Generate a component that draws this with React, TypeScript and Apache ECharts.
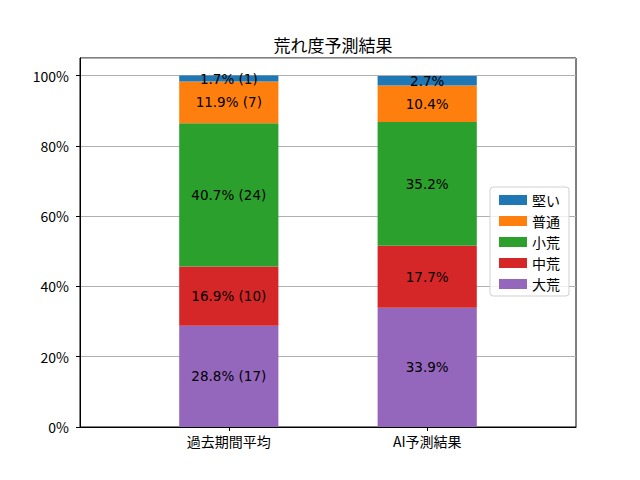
import React, { useEffect, useRef } from "react";
import * as echarts from "echarts";

const categories = ["過去期間平均", "AI予測結果"];
const seriesNames = ["大荒", "中荒", "小荒", "普通", "堅い"];
const colors = ["#9467bd", "#d62728", "#2ca02c", "#ff7f0e", "#1f77b4"];
const values = [
  [28.8, 33.9],
  [16.9, 17.7],
  [40.7, 35.2],
  [11.9, 10.4],
  [1.7, 2.7],
];
const counts = [
  [17, null],
  [10, null],
  [24, null],
  [7, null],
  [1, null],
];
const yTicks = [0, 20, 40, 60, 80, 100];
const legendOrder = ["堅い", "普通", "小荒", "中荒", "大荒"];

const FONT = "'Noto Sans CJK JP', 'DejaVu Sans', sans-serif";
const LABEL_FONT = "'DejaVu Sans', 'Noto Sans CJK JP', sans-serif";

export default function App() {
  const ref = useRef<HTMLDivElement>(null);
  useEffect(() => {
    if (!ref.current) return;
    const chart = echarts.init(ref.current, null, { renderer: "svg" });
    const series = seriesNames.map((name, si) => ({
      name,
      type: "bar",
      stack: "total",
      xAxisIndex: 1,
      yAxisIndex: 1,
      barWidth: "50%",
      itemStyle: { color: colors[si] },
      label: {
        show: true,
        position: "inside",
        color: "#000",
        fontSize: 13.5,
        fontFamily: LABEL_FONT,
        formatter: (p: any) => {
          const idx = p.dataIndex;
          const v = values[si][idx].toFixed(1) + "%";
          const c = counts[si][idx];
          return c !== null ? `${v} (${c})` : v;
        },
      },
      data: values[si],
    }));
    chart.setOption({
      animation: false,
      textStyle: { fontFamily: FONT },
      title: {
        text: "荒れ度予測結果",
        left: 328,
        top: 31,
        textAlign: "center",
        textStyle: { fontSize: 17, fontWeight: "normal", color: "#000", fontFamily: FONT },
      },
      grid: [
        {
          left: 80,
          right: 64,
          top: 58,
          bottom: 53,
          show: true,
          borderColor: "#000",
          borderWidth: 1,
          containLabel: false,
          z: 0,
        },
        {
          left: 129.6,
          right: 113.6,
          top: 58,
          bottom: 53,
          containLabel: false,
        },
      ],
      legend: {
        orient: "vertical",
        right: 71,
        top: 187,
        data: legendOrder,
        icon: "rect",
        itemWidth: 28,
        itemHeight: 10,
        itemGap: 7,
        padding: [6, 9, 5, 9],
        borderColor: "#d0d0d0",
        borderWidth: 1,
        borderRadius: 3,
        backgroundColor: "rgba(255,255,255,0.8)",
        textStyle: { fontSize: 14, color: "#000", fontFamily: FONT },
      },
      xAxis: [
        {
          type: "value",
          gridIndex: 0,
          min: -0.75,
          max: 1.75,
          splitLine: { show: false },
          axisLine: { onZero: false, lineStyle: { color: "#000" } },
          axisTick: { show: true, customValues: [0, 1], length: 4, lineStyle: { color: "#000" } },
          axisLabel: {
            customValues: [0, 1],
            formatter: (v: number) => categories[Math.round(v)] ?? "",
            color: "#000",
            fontSize: 14,
            fontFamily: FONT,
            margin: 7,
          },
        },
        {
          type: "category",
          gridIndex: 1,
          data: categories,
          show: false,
        },
      ],
      yAxis: [
        {
          type: "value",
          gridIndex: 0,
          min: 0,
          max: 105,
          interval: 20,
          axisLine: { show: true, onZero: false, lineStyle: { color: "#000" } },
          axisTick: { show: true, length: 4, lineStyle: { color: "#000" } },
          axisLabel: {
            formatter: (v: number) => (yTicks.includes(v) ? `${v}%` : ""),
            color: "#000",
            fontSize: 14,
            fontFamily: FONT,
            margin: 11,
            showMaxLabel: false,
          },
          splitLine: { show: true, lineStyle: { color: "#b0b0b0", width: 1 } },
        },
        {
          type: "value",
          gridIndex: 1,
          min: 0,
          max: 105,
          show: false,
          splitLine: { show: false },
        },
      ],
      series,
    });
    return () => chart.dispose();
  }, []);
  return <div ref={ref} style={{ width: 640, height: 480, margin: -8 }} />;
}
